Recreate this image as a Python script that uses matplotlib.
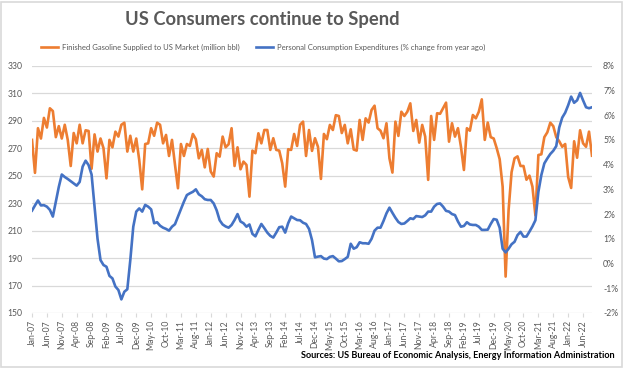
import matplotlib
matplotlib.use("Agg")
import matplotlib.pyplot as plt
import numpy as np
import pandas as pd
from matplotlib.ticker import FuncFormatter
from matplotlib.patches import Rectangle

# monthly data, Jan-2007 .. Sep-2022
months = pd.date_range("2007-01-01", periods=189, freq="MS")

gasoline = [
    276, 252, 284.5, 277, 292, 285, 299, 297, 278, 286, 277, 287,
    276, 257, 281, 273.5, 287, 273.5, 283, 282.5, 255, 280, 267.5, 277,
    270, 248, 276, 270.6, 282, 278.4, 287, 288.5, 267.5, 279, 267.5, 277,
    261.4, 240, 273, 273.5, 284.5, 279, 288.5, 287, 273.5, 279.6, 264.3, 276,
    258, 240.8, 273, 264.3, 273, 271.6, 280.3, 276.5, 262.6, 268.7, 256, 269.4,
    253, 249.3, 266.3, 263.8, 278.4, 270.6, 272.8, 284.5, 257, 270.6, 254.6, 260.2,
    257.8, 234.7, 268.2, 266.3, 280.8, 273.5, 283.2, 283.2, 268.7, 277.2, 268.7, 268.2,
    259, 242, 269.2, 268.7, 280.3, 271.6, 287, 289.3, 264.3, 283.2, 268, 277.2,
    271, 247.6, 280.3, 276.5, 286.9, 283.2, 294, 293.4, 281, 286.9, 273.5, 283.7,
    269, 268.2, 290.5, 276, 291.7, 288.6, 297.8, 300.9, 284.5, 282.7, 277.2, 288.1,
    262.6, 252.2, 289.3, 278.9, 296.5, 293.4, 296.5, 302.6, 282.5, 290.5, 274, 286.9,
    278.4, 246.9, 293.4, 276, 295.4, 295, 299, 303.1, 274.7, 288.1, 278.4, 284.5,
    271.1, 254.1, 284.5, 282.7, 294.1, 291.7, 296.5, 305.5, 276, 288.6, 278, 277,
    270, 262, 242, 176.5, 225, 252.5, 262.6, 264, 257, 257, 247, 250,
    242, 221, 265, 265.5, 278, 281.5, 288.5, 286, 278, 275, 271, 273,
    249, 241, 275, 263, 283, 273.5, 271, 282, 264.5,
]

pce = [
    2.14, 2.35, 2.55, 2.35, 2.36, 2.3, 2.17, 1.9, 2.5, 3.1, 3.6, 3.5,
    3.42, 3.33, 3.24, 3.15, 3.3, 3.92, 4.16, 3.98, 3.6, 2.3, 1.0, 0.14,
    -0.06, -0.13, -0.5, -0.6, -0.93, -1.07, -1.45, -1.14, -1.04, 0.14, 1.49, 2.1,
    2.23, 2.1, 2.37, 2.3, 2.19, 1.63, 1.67, 1.53, 1.45, 1.4, 1.33, 1.49,
    1.59, 1.9, 2.2, 2.5, 2.77, 2.84, 2.9, 3.0, 2.8, 2.72, 2.6, 2.57,
    2.57, 2.43, 2.15, 1.75, 1.58, 1.5, 1.45, 1.56, 1.76, 2.0, 1.7, 1.63,
    1.49, 1.58, 1.2, 1.1, 1.36, 1.6, 1.43, 1.25, 1.12, 1.05, 1.25, 1.47,
    1.49, 1.25, 1.63, 1.9, 1.83, 1.76, 1.75, 1.65, 1.6, 1.4, 0.95, 0.25,
    0.28, 0.3, 0.2, 0.18, 0.27, 0.3, 0.2, 0.09, 0.1, 0.18, 0.27, 0.8,
    0.6, 0.66, 0.86, 0.82, 0.82, 0.8, 1.0, 1.33, 1.45, 1.45, 1.72, 2.03,
    2.26, 2.05, 1.85, 1.68, 1.6, 1.62, 1.72, 1.83, 1.8, 1.92, 1.9, 1.88,
    1.95, 2.1, 2.1, 2.3, 2.41, 2.43, 2.3, 2.13, 2.1, 2.0, 1.96, 1.7,
    1.49, 1.52, 1.67, 1.58, 1.56, 1.56, 1.49, 1.36, 1.36, 1.37, 1.6, 1.8,
    1.77, 1.45, 0.6, 0.45, 0.6, 0.78, 0.88, 1.15, 1.28, 1.09, 1.09, 1.29,
    1.5, 1.75, 2.9, 3.58, 4.05, 4.25, 4.43, 4.56, 4.75, 5.5, 5.9, 6.1,
    6.4, 6.75, 6.5, 6.6, 6.9, 6.6, 6.32, 6.28, 6.32,
]

left_ticks = list(range(150, 331, 20))
right_ticks = list(range(-2, 9))

ORANGE = "#ED7D31"
BLUE = "#4472C4"
GRID = "#d9d9d9"
TXT = "#595959"

plt.rcParams["font.family"] = ["Lato", "DejaVu Sans"]

fig = plt.figure(figsize=(6.24, 3.68), dpi=100)
ax = fig.add_axes([32 / 624, 1 - 313 / 368, 560 / 624, (313 - 65.7) / 368])
ax2 = ax.twinx()

x = np.arange(len(months))
ax.plot(x, gasoline, color=ORANGE, lw=1.9,
        label="Finished Gasoline Supplied to US Market (million bbl)")
ax2.plot(x, pce, color=BLUE, lw=1.9,
         label="Personal Consumption Expenditures (% change from year ago)")

ax.set_xlim(0, len(months) - 1)
ax.set_ylim(150, 330)
ax2.set_ylim(-2, 8)
ax.set_yticks(left_ticks)
ax2.set_yticks(right_ticks)
ax2.yaxis.set_major_formatter(FuncFormatter(lambda v, p: f"{int(round(v))}%"))

ax.grid(axis="y", color=GRID, lw=0.9)
ax.set_axisbelow(True)
for a in (ax, ax2):
    for s in a.spines.values():
        s.set_visible(False)

tick_pos = x[::5]
ax.set_xticks(tick_pos)
ax.set_xticklabels([m.strftime("%b-%y") for m in months[::5]], rotation=90)
ax.tick_params(axis="x", length=3, color=GRID, labelsize=6.2, labelcolor=TXT, pad=2)
ax.tick_params(axis="y", length=0, labelsize=6.2, labelcolor=TXT, pad=7)
ax2.tick_params(axis="y", length=0, labelsize=6.2, labelcolor=TXT, pad=8)

fig.text(262 / 624, 1 - 19.5 / 368, "US Consumers continue to Spend",
         ha="center", va="center", fontsize=13.2, fontweight="bold", color=TXT)

h1, l1 = ax.get_legend_handles_labels()
h2, l2 = ax2.get_legend_handles_labels()
fig.legend(h1 + h2, l1 + l2, loc="center", bbox_to_anchor=(263 / 624, 1 - 47.3 / 368),
           ncol=2, frameon=False, fontsize=5.5, labelcolor=TXT,
           handlelength=2.2, handletextpad=0.5, columnspacing=2.2)

fig.text(615 / 624, 1 - 355 / 368,
         "Sources: US Bureau of Economic Analysis, Energy Information Administration",
         ha="right", va="center", fontsize=6.6, fontweight="bold", color="black")

fig.patches.append(Rectangle((0.002, 0.004), 0.994, 0.99, transform=fig.transFigure,
                             fill=False, edgecolor=GRID, lw=1.2))

fig.savefig("out.png", dpi=100)
